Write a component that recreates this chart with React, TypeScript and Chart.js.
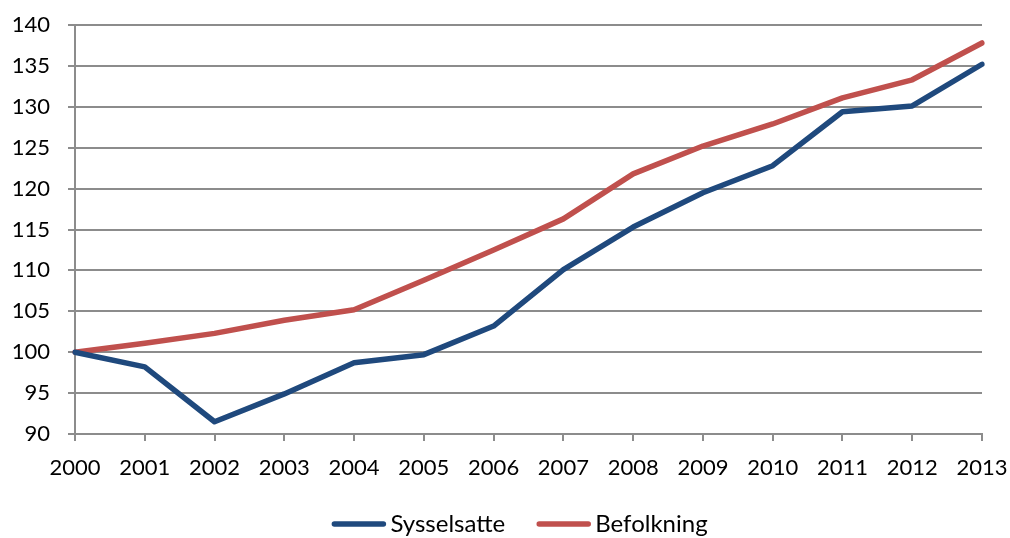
import React, { useEffect, useRef } from "react";
import { Chart, registerables } from "chart.js";

Chart.register(...registerables);

const years = ["2000", "2001", "2002", "2003", "2004", "2005", "2006", "2007", "2008", "2009", "2010", "2011", "2012", "2013"];
const sysselsatte = [100, 98.2, 91.5, 94.9, 98.7, 99.7, 103.2, 110.1, 115.3, 119.5, 122.8, 129.4, 130.1, 135.2];
const befolkning = [100, 101.1, 102.3, 103.9, 105.2, 108.8, 112.5, 116.3, 121.8, 125.2, 127.9, 131.1, 133.3, 137.8];

const FONT = "Lato, 'Open Sans', sans-serif";

const bottomLegend = {
  id: "bottomLegend",
  afterDraw(chart: any) {
    const ctx = chart.ctx as CanvasRenderingContext2D;
    const items = chart.data.datasets.map((d: any) => ({ label: d.label, color: d.borderColor }));
    ctx.save();
    ctx.font = `24px ${FONT}`;
    const sample = 55;
    const gapText = 4;
    const gapItem = 31;
    const widths = items.map((it: any) => sample + gapText + ctx.measureText(it.label).width);
    const total = widths.reduce((a: number, b: number) => a + b, 0) + gapItem * (items.length - 1);
    const cx = (chart.chartArea.left + chart.chartArea.right) / 2 - 9;
    let x = cx - total / 2;
    const y = 524;
    items.forEach((it: any, i: number) => {
      ctx.strokeStyle = it.color;
      ctx.lineWidth = 5.5;
      ctx.lineCap = "round";
      ctx.beginPath();
      ctx.moveTo(x + 3, y);
      ctx.lineTo(x + sample - 3, y);
      ctx.stroke();
      ctx.fillStyle = "#000";
      ctx.textBaseline = "middle";
      ctx.textAlign = "left";
      ctx.fillText(it.label, x + sample + gapText, y);
      x += widths[i] + gapItem;
    });
    ctx.restore();
  },
};

export default function App() {
  const ref = useRef<HTMLCanvasElement | null>(null);
  useEffect(() => {
    document.body.style.margin = "0";
    if (!ref.current) return;
    const chart = new Chart(ref.current, {
      type: "line",
      data: {
        labels: years,
        datasets: [
          {
            label: "Sysselsatte",
            data: sysselsatte,
            borderColor: "#1F497D",
            backgroundColor: "#1F497D",
            borderWidth: 5.5,
            pointRadius: 0,
            tension: 0,
            borderCapStyle: "round",
            borderJoinStyle: "round",
          },
          {
            label: "Befolkning",
            data: befolkning,
            borderColor: "#C0504D",
            backgroundColor: "#C0504D",
            borderWidth: 5.5,
            pointRadius: 0,
            tension: 0,
            borderCapStyle: "round",
            borderJoinStyle: "round",
          },
        ],
      },
      plugins: [bottomLegend],
      options: {
        animation: false,
        responsive: false,
        layout: { padding: { top: 25, right: 28, left: 0, bottom: 55 } },
        plugins: {
          tooltip: { enabled: false },
          legend: { display: false },
        },
        scales: {
          x: {
            type: "category",
            grid: {
              drawOnChartArea: false,
              drawTicks: true,
              tickLength: 7,
              color: "#8C8C8C",
              lineWidth: 2,
            },
            border: { color: "#8C8C8C", width: 2 },
            ticks: { color: "#000", font: { family: FONT, size: 22 }, padding: 14, maxRotation: 0, autoSkip: false },
            afterFit: (s: any) => {
              s.height = 49;
              s.paddingLeft = 0;
              s.paddingRight = 0;
            },
          },
          y: {
            min: 90,
            max: 140,
            grid: { color: "#8C8C8C", lineWidth: 2, tickLength: 7 },
            border: { color: "#8C8C8C", width: 2 },
            ticks: { stepSize: 5, color: "#000", font: { family: FONT, size: 22 }, padding: 18 },
            afterFit: (s: any) => {
              s.width = 75;
              s.paddingTop = 0;
              s.paddingBottom = 0;
            },
          },
        },
      },
    });
    return () => chart.destroy();
  }, []);
  return (
    <div style={{ position: "absolute", left: 0, top: 0, width: 1010, height: 538, background: "#fff" }}>
      <canvas ref={ref} width={1010} height={538} style={{ width: 1010, height: 538 }} />
    </div>
  );
}
